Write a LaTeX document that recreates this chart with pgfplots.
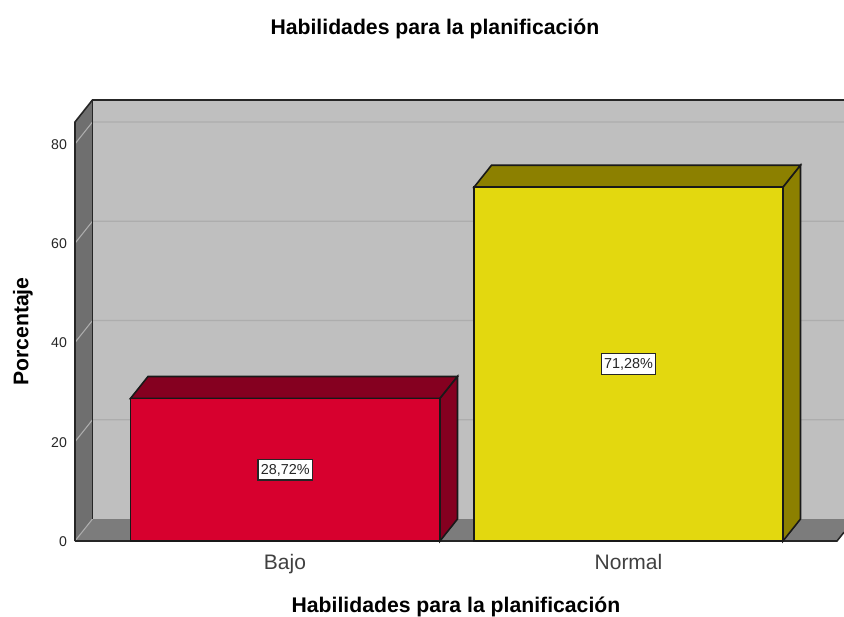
\documentclass[border=0pt]{standalone}
\usepackage{fontspec}
\setmainfont{Liberation Sans}
\usepackage{pgfplots}
\pgfplotsset{compat=1.18}
\definecolor{wall}{HTML}{BFBFBF}
\definecolor{sidewall}{HTML}{6F6F6F}
\definecolor{floorc}{HTML}{7C7C7C}
\definecolor{gridc}{HTML}{ADADAD}
\definecolor{redf}{HTML}{D7002E}
\definecolor{redd}{HTML}{850020}
\definecolor{yelf}{HTML}{E3D80F}
\definecolor{yeld}{HTML}{8C8000}
\begin{document}
\begin{tikzpicture}
\path[use as bounding box] (-56.25pt,-57pt) rectangle (576.75pt,405.75pt);
\begin{axis}[
  scale only axis, width=576.75pt, height=314.25pt,
  xmin=75, xmax=844, ymin=0, ymax=84.43,
  clip=false,
  axis line style={draw=none},
  major tick length=0pt,
  ytick={0,20,40,60,80},
  xtick={285,628.5},
  xticklabels={Bajo,Normal},
  tick label style={font=\fontsize{10.6}{13}\selectfont, text=black!85},
  x tick label style={font=\fontsize{15.75}{18}\selectfont, text=black!75, yshift=-6.5pt},
  y tick label style={xshift=-2.5pt,yshift=-0.3pt},
  /pgf/number format/assume math mode=true,
  title={\textbf{Habilidades para la planificación}},
  title style={at={(rel axis cs:0.468,1.2267)},anchor=center,yshift=-7.5pt,font=\fontsize{15.9}{18}\selectfont},
  xlabel={\textbf{Habilidades para la planificación}},
  xlabel style={at={(rel axis cs:0.4954,-0.1527)},anchor=center,yshift=-1.5pt,font=\fontsize{15.9}{18}\selectfont},
  ylabel={\textbf{Porcentaje}},
  ylabel style={at={(rel axis cs:-0.0689,0.5012)},anchor=center,xshift=-0.4pt,yshift=-0.7pt,font=\fontsize{15.9}{18}\selectfont},
  axis on top=false,
]
% back wall
\addplot[fill=wall,draw=none] coordinates {(92.5,4.43)(844,4.43)(844,88.87)(92.5,88.87)} --cycle;
% floor
\addplot[fill=floorc,draw=none] coordinates {(75,0)(837,0)(844,1.77)(844,4.43)(92.5,4.43)} --cycle;
% side wall
\addplot[fill=sidewall,draw=none] coordinates {(75,0)(92.5,4.43)(92.5,88.87)(75,84.43)} --cycle;
% grid lines
\addplot[gridc,line width=0.8pt] coordinates {(75,20)(92.5,24.43)(844,24.43)};
\addplot[gridc,line width=0.8pt] coordinates {(75,40)(92.5,44.43)(844,44.43)};
\addplot[gridc,line width=0.8pt] coordinates {(75,60)(92.5,64.43)(844,64.43)};
\addplot[gridc,line width=0.8pt] coordinates {(75,80)(92.5,84.43)(844,84.43)};
\addplot[gridc,line width=0.8pt] coordinates {(75,0)(92.5,4.43)};
% wall outlines
\addplot[black!85,line width=1.2pt] coordinates {(75,0)(75,84.43)(92.5,88.87)(844,88.87)};
\addplot[black!85,line width=1.2pt] coordinates {(92.5,88.87)(92.5,4.43)};
\addplot[black!85,line width=1.2pt] coordinates {(75,0)(837,0)(844,1.77)};
% Bajo
\addplot[fill=redd,draw=black!90,line width=1.2pt] coordinates {(130.5,28.72)(148,33.15)(457.5,33.15)(440,28.72)} --cycle;
\addplot[fill=redd,draw=black!90,line width=1.2pt] coordinates {(440,0)(457.5,4.43)(457.5,33.15)(440,28.72)} --cycle;
\addplot[ybar,bar shift=0pt,bar width=309.5,fill=redf,draw=black!90,line width=1.2pt] coordinates {(285.25,28.72)};
% Normal
\addplot[fill=yeld,draw=black!90,line width=1.2pt] coordinates {(474,71.28)(491.5,75.71)(800.5,75.71)(783,71.28)} --cycle;
\addplot[fill=yeld,draw=black!90,line width=1.2pt] coordinates {(783,0)(800.5,4.43)(800.5,75.71)(783,71.28)} --cycle;
\addplot[ybar,bar shift=0pt,bar width=309,fill=yelf,draw=black!90,line width=1.2pt] coordinates {(628.5,71.28)};
% labels
\addplot[draw=none,mark=none,
  nodes near coords, point meta=explicit symbolic,
  nodes near coords align={anchor=center},
  every node near coord/.style={fill=white,draw=black!85,line width=1pt,
     inner xsep=2pt,inner ysep=3pt,font=\fontsize{10.8}{12}\selectfont,text=black!85,
     text height=8pt,text depth=1.5pt}]
  table[meta=lab,col sep=semicolon] {
x;y;lab
285.25;14.36;28,72\%
628.5;35.64;71,28\%
};
\end{axis}
\end{tikzpicture}
\end{document}
